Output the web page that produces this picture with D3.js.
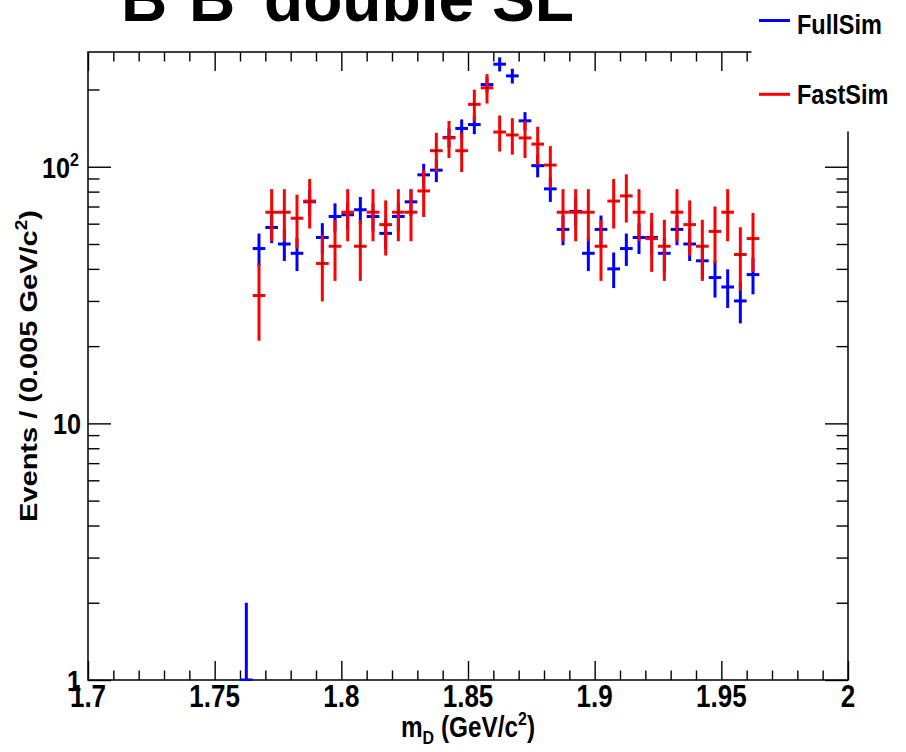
<!DOCTYPE html>
<html><head><meta charset="utf-8">
<script src="https://cdn.jsdelivr.net/npm/d3@7"></script>
<style>
body{margin:0;background:#fff}
svg text{font-family:"Liberation Sans",Arial,Helvetica,sans-serif;font-weight:bold;fill:#000}
</style>
</head><body><svg id="c" width="906" height="752"></svg>
<script>
// ---- data ----
const massBins = [1.7625,1.7675,1.7725,1.7775,1.7825,1.7875,1.7925,1.7975,1.8025,1.8075,
                  1.8125,1.8175,1.8225,1.8275,1.8325,1.8375,1.8425,1.8475,1.8525,1.8575,
                  1.8625,1.8675,1.8725,1.8775,1.8825,1.8875,1.8925,1.8975,1.9025,1.9075,
                  1.9125,1.9175,1.9225,1.9275,1.9325,1.9375,1.9425,1.9475,1.9525,1.9575,1.9625];
const fullSim = [1,48,58,50,46,73,53,64,65,68,
                 64,55,64,73,93,97,130,141,146,209,
                 251,226,151,101,82,57,67,46,57,40,
                 48,53,53,46,57,50,43,37,34,30,38];
const fastSimCounts = [0,9,19,19,18,21,12,14,19,14,
                       19,17,19,19,23,33,37,33,50,58,
                       39,38,37,35,29,19,19,19,14,21,
                       22,19,15,14,19,17,14,16,19,13,15];
const fastSimWeight = 3.5;
const binWidth = 0.005;
const xTickValues = [1.7,1.75,1.8,1.85,1.9,1.95,2];
const xTickLabels = ["1.7","1.75","1.8","1.85","1.9","1.95","2"];
const yTickValues = [1,10,100];
const yTickLabels = [["1",""],["10",""],["10","2"]];
const seriesNames = ["FullSim","FastSim"];
const seriesColors = ["#0000ff","#ff0000"];

// ---- layout ----
const L=88, R=848, T=52, B=680, SX=0.84;
const svg = d3.select("#c");
const x = d3.scaleLinear().domain([1.7,2.0]).range([L,R]);
const y = d3.scaleLog().domain([1,280]).range([B,T]).clamp(true);

// frame
svg.append("rect").attr("x",L).attr("y",T).attr("width",R-L).attr("height",B-T)
  .attr("fill","none").attr("stroke","#000").attr("stroke-width",1.5);

const minorX = d3.range(171,200).map(d=>d/100).filter(d=>Math.round(d*100)%5!==0);
const minorY = [];
[1,10,100].forEach(dec=>{for(let k=2;k<=9;k++){const v=k*dec; if(v<280) minorY.push(v);}});

function styleAxis(g){g.select(".domain").remove(); g.selectAll("line").attr("stroke","#000").attr("stroke-width",1.4); g.selectAll("text").remove();}
svg.append("g").attr("transform",`translate(0,${B})`).call(d3.axisBottom(x).tickValues(xTickValues).tickSize(-19)).call(styleAxis);
svg.append("g").attr("transform",`translate(0,${B})`).call(d3.axisBottom(x).tickValues(minorX).tickSize(-9.5)).call(styleAxis);
svg.append("g").attr("transform",`translate(0,${T})`).call(d3.axisTop(x).tickValues(xTickValues).tickSize(-19)).call(styleAxis);
svg.append("g").attr("transform",`translate(0,${T})`).call(d3.axisTop(x).tickValues(minorX).tickSize(-9.5)).call(styleAxis);
svg.append("g").attr("transform",`translate(${L},0)`).call(d3.axisLeft(y).tickValues(yTickValues).tickSize(-23)).call(styleAxis);
svg.append("g").attr("transform",`translate(${L},0)`).call(d3.axisLeft(y).tickValues(minorY).tickSize(-11.5)).call(styleAxis);
svg.append("g").attr("transform",`translate(${R},0)`).call(d3.axisRight(y).tickValues(yTickValues).tickSize(-23)).call(styleAxis);
svg.append("g").attr("transform",`translate(${R},0)`).call(d3.axisRight(y).tickValues(minorY).tickSize(-11.5)).call(styleAxis);

// tick labels
xTickValues.forEach((v,i)=>{
  svg.append("text").attr("transform",`translate(${x(v)},707) scale(${SX},1)`)
    .attr("text-anchor","middle").attr("font-size",31).text(xTickLabels[i]);
});
yTickValues.forEach((v,i)=>{
  const [base,sup]=yTickLabels[i];
  const t = svg.append("text").attr("transform",`translate(${sup?79:81},${y(v)+11}) scale(${SX},1)`)
    .attr("text-anchor","end").attr("font-size",30);
  t.append("tspan").text(base);
  if(sup) t.append("tspan").attr("dy",-12).attr("font-size",19).text(sup);
});

// axis titles
const xt = svg.append("text").attr("transform",`translate(468,737) scale(${SX},1)`).attr("text-anchor","middle").attr("font-size",29);
xt.append("tspan").text("m");
xt.append("tspan").attr("dy",7).attr("font-size",19).text("D");
xt.append("tspan").attr("dy",-7).text(" (GeV/c");
xt.append("tspan").attr("dy",-12).attr("font-size",19).text("2");
xt.append("tspan").attr("dy",12).text(")");

const yt = svg.append("text").attr("transform",`translate(37,366) scale(${SX},1) rotate(-90)`).attr("text-anchor","middle").attr("font-size",29);
yt.append("tspan").text("Events / (0.005 GeV/c");
yt.append("tspan").attr("dy",-12).attr("font-size",19).text("2");
yt.append("tspan").attr("dy",12).text(")");

// data
svg.append("clipPath").attr("id","pc").append("rect").attr("x",L).attr("y",T-1).attr("width",R-L).attr("height",B-T+2);
const plot = svg.append("g").attr("clip-path","url(#pc)");
const hw = (x(1.7+binWidth)-x(1.7))/2;

function drawSeries(pts,color,dot){
  const g = plot.append("g").attr("stroke",color).attr("stroke-width",3);
  pts.forEach(p=>{
    const cx=x(p.m);
    g.append("line").attr("x1",cx).attr("x2",cx).attr("y1",y(Math.max(p.v-p.e,1e-3))).attr("y2",y(p.v+p.e));
    g.append("line").attr("x1",cx-hw).attr("x2",cx+hw).attr("y1",y(p.v)).attr("y2",y(p.v));
    if(dot) plot.append("rect").attr("x",cx-0.75).attr("y",y(p.v)-0.75).attr("width",1.5).attr("height",1.5).attr("fill","#000");
  });
}
const fullPts = massBins.map((m,i)=>({m, v:fullSim[i], e:Math.sqrt(fullSim[i])})).filter(p=>p.v>0);
const fastPts = massBins.map((m,i)=>({m, v:fastSimCounts[i]*fastSimWeight, e:Math.sqrt(fastSimCounts[i])*fastSimWeight})).filter(p=>p.v>0);
drawSeries(fullPts,seriesColors[0],false);
drawSeries(fastPts,seriesColors[1],true);

// legend box (covers the frame corner)
svg.append("rect").attr("x",751.5).attr("y",0).attr("width",906-751.5).attr("height",131.5).attr("fill","#fff");
[[20.5,33.5],[94.3,103.5]].forEach(([ly,ty],i)=>{
  svg.append("line").attr("x1",759).attr("x2",790).attr("y1",ly).attr("y2",ly).attr("stroke",seriesColors[i]).attr("stroke-width",3);
  svg.append("text").attr("transform",`translate(797,${ty}) scale(${SX},1)`).attr("font-size",28).text(seriesNames[i]);
});

// title (top is cut off by the canvas edge, as in the original)
const titleSize=64;
svg.append("text").attr("x",121).attr("y",21).attr("font-size",titleSize).text("B");
svg.append("text").attr("x",189).attr("y",21).attr("font-size",titleSize).text("B");
svg.append("text").attr("x",264).attr("y",21).attr("font-size",titleSize).attr("textLength",310).attr("lengthAdjust","spacingAndGlyphs").text("double SL");
</script>
</body></html>
